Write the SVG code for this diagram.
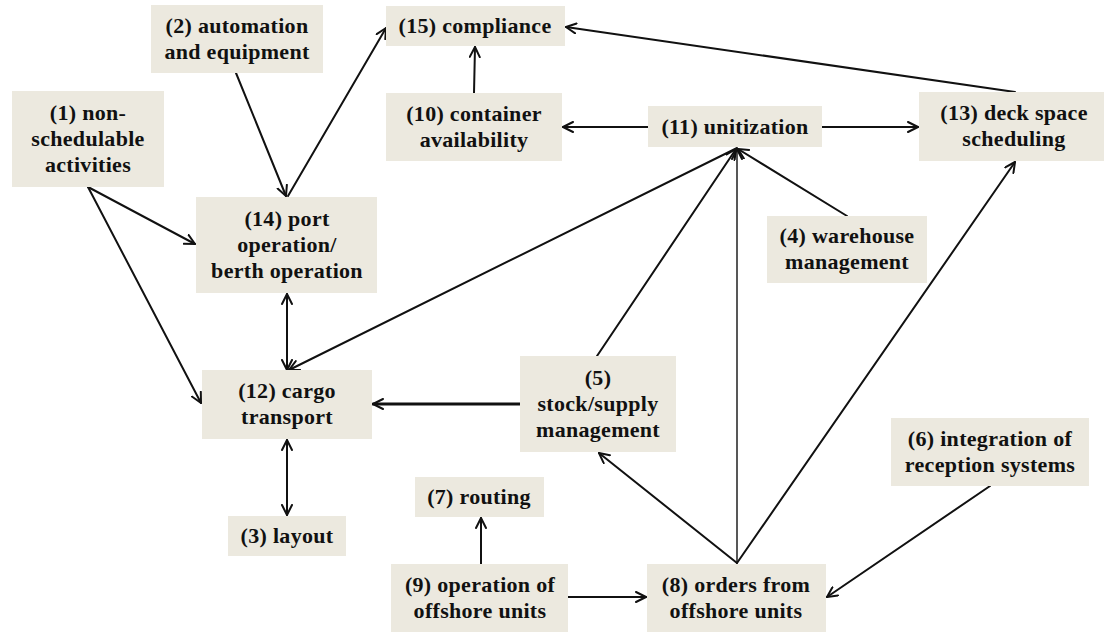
<svg xmlns="http://www.w3.org/2000/svg" width="1104" height="632" viewBox="0 0 1104 632">
  <style>
    .box { fill: #ECE9DF; }
    .lbl { font-family: "Liberation Serif", "Times New Roman", serif; font-weight: bold; font-size: 22px; letter-spacing: 0.3px; fill: #111; text-anchor: middle; }
    .edge { stroke: #111; stroke-width: 2; fill: none; stroke-linecap: round; }
    .thin { stroke-width: 1.4; }
    .thick { stroke-width: 3; }
  </style>
  <defs>
    <marker id="head" viewBox="0 0 12 12" refX="11" refY="6" markerWidth="12" markerHeight="12" markerUnits="userSpaceOnUse" orient="auto-start-reverse">
      <path d="M1,1 L11,6 L1,11" fill="none" stroke="#111" stroke-width="2" stroke-linecap="round" stroke-linejoin="round"/>
    </marker>
  </defs>
  <rect width="1104" height="632" fill="#ffffff"/>

  <g id="connectors">
    <!-- (2) -> (14) -->
    <line class="edge" x1="236" y1="73" x2="286" y2="196" marker-end="url(#head)"/>
    <!-- (14) -> (15) -->
    <line class="edge" x1="288" y1="196" x2="386" y2="28" marker-end="url(#head)"/>
    <!-- (10) -> (15) -->
    <line class="edge" x1="474" y1="93" x2="475" y2="47" marker-end="url(#head)"/>
    <!-- (11) -> (10) -->
    <line class="edge" x1="648" y1="127" x2="563" y2="127" marker-end="url(#head)"/>
    <!-- (11) -> (13) -->
    <line class="edge" x1="822" y1="127" x2="918" y2="127" marker-end="url(#head)"/>
    <!-- (13) -> (15) -->
    <line class="edge" x1="1015" y1="92" x2="566" y2="27" marker-end="url(#head)"/>
    <!-- (1) -> (14) -->
    <line class="edge" x1="88" y1="187" x2="195" y2="244" marker-end="url(#head)"/>
    <!-- (1) -> (12) -->
    <line class="edge" x1="88" y1="187" x2="201" y2="403" marker-end="url(#head)"/>
    <!-- (12) <-> (14) -->
    <line class="edge" x1="287" y1="370" x2="287" y2="294" marker-start="url(#head)" marker-end="url(#head)"/>
    <!-- (11) -> (12) -->
    <line class="edge" x1="737" y1="148" x2="289" y2="370" marker-end="url(#head)"/>
    <!-- (5) -> (11) -->
    <line class="edge" x1="597" y1="356" x2="736" y2="149" marker-end="url(#head)"/>
    <!-- (8) -> (11) -->
    <line class="edge thin" x1="737" y1="563" x2="737" y2="149" marker-end="url(#head)"/>
    <!-- (4) -> (11) -->
    <line class="edge" x1="847" y1="216" x2="738" y2="149" marker-end="url(#head)"/>
    <!-- (5) -> (12) -->
    <line class="edge thick" x1="520" y1="404" x2="373" y2="404" marker-end="url(#head)"/>
    <!-- (12) <-> (3) -->
    <line class="edge" x1="287" y1="440" x2="287" y2="515" marker-start="url(#head)" marker-end="url(#head)"/>
    <!-- (9) -> (7) -->
    <line class="edge" x1="481" y1="564" x2="481" y2="518" marker-end="url(#head)"/>
    <!-- (9) -> (8) -->
    <line class="edge" x1="568" y1="597" x2="646" y2="597" marker-end="url(#head)"/>
    <!-- (8) -> (5) -->
    <line class="edge" x1="737" y1="563" x2="599" y2="453" marker-end="url(#head)"/>
    <!-- (8) -> (13) -->
    <line class="edge" x1="737" y1="563" x2="1015" y2="162" marker-end="url(#head)"/>
    <!-- (6) -> (8) -->
    <line class="edge" x1="990" y1="486" x2="827" y2="597" marker-end="url(#head)"/>
  </g>

  <g id="n1">
    <rect class="box" x="12" y="91" width="152" height="96"/>
    <text class="lbl" x="88" y="120"><tspan x="88">(1) non-</tspan><tspan x="88" dy="26">schedulable</tspan><tspan x="88" dy="26">activities</tspan></text>
  </g>
  <g id="n2">
    <rect class="box" x="151" y="5" width="172" height="68"/>
    <text class="lbl" x="237" y="33"><tspan x="237">(2) automation</tspan><tspan x="237" dy="26">and equipment</tspan></text>
  </g>
  <g id="n15">
    <rect class="box" x="386" y="6" width="179" height="40"/>
    <text class="lbl" x="475" y="33">(15) compliance</text>
  </g>
  <g id="n10">
    <rect class="box" x="386" y="93" width="176" height="68"/>
    <text class="lbl" x="474" y="121"><tspan x="474">(10) container</tspan><tspan x="474" dy="26">availability</tspan></text>
  </g>
  <g id="n11">
    <rect class="box" x="648" y="106" width="174" height="41"/>
    <text class="lbl" x="735" y="134">(11) unitization</text>
  </g>
  <g id="n13">
    <rect class="box" x="919" y="92" width="185" height="69"/>
    <text class="lbl" x="1014" y="120"><tspan x="1014">(13) deck space</tspan><tspan x="1014" dy="26">scheduling</tspan></text>
  </g>
  <g id="n14">
    <rect class="box" x="196" y="197" width="181" height="96"/>
    <text class="lbl" x="287" y="226"><tspan x="287">(14) port</tspan><tspan x="287" dy="26">operation/</tspan><tspan x="287" dy="26">berth operation</tspan></text>
  </g>
  <g id="n4">
    <rect class="box" x="767" y="216" width="160" height="67"/>
    <text class="lbl" x="847" y="243"><tspan x="847">(4) warehouse</tspan><tspan x="847" dy="26">management</tspan></text>
  </g>
  <g id="n12">
    <rect class="box" x="202" y="370" width="170" height="69"/>
    <text class="lbl" x="287" y="398"><tspan x="287">(12) cargo</tspan><tspan x="287" dy="26">transport</tspan></text>
  </g>
  <g id="n5">
    <rect class="box" x="520" y="356" width="156" height="96"/>
    <text class="lbl" x="598" y="385"><tspan x="598">(5)</tspan><tspan x="598" dy="26">stock/supply</tspan><tspan x="598" dy="26">management</tspan></text>
  </g>
  <g id="n6">
    <rect class="box" x="891" y="418" width="198" height="68"/>
    <text class="lbl" x="990" y="446"><tspan x="990">(6) integration of</tspan><tspan x="990" dy="26">reception systems</tspan></text>
  </g>
  <g id="n7">
    <rect class="box" x="415" y="477" width="129" height="40"/>
    <text class="lbl" x="479" y="504">(7) routing</text>
  </g>
  <g id="n3">
    <rect class="box" x="228" y="516" width="118" height="40"/>
    <text class="lbl" x="287" y="543">(3) layout</text>
  </g>
  <g id="n9">
    <rect class="box" x="391" y="564" width="177" height="68"/>
    <text class="lbl" x="480" y="592"><tspan x="480">(9) operation of</tspan><tspan x="480" dy="26">offshore units</tspan></text>
  </g>
  <g id="n8">
    <rect class="box" x="647" y="564" width="179" height="68"/>
    <text class="lbl" x="736" y="592"><tspan x="736">(8) orders from</tspan><tspan x="736" dy="26">offshore units</tspan></text>
  </g>
</svg>
